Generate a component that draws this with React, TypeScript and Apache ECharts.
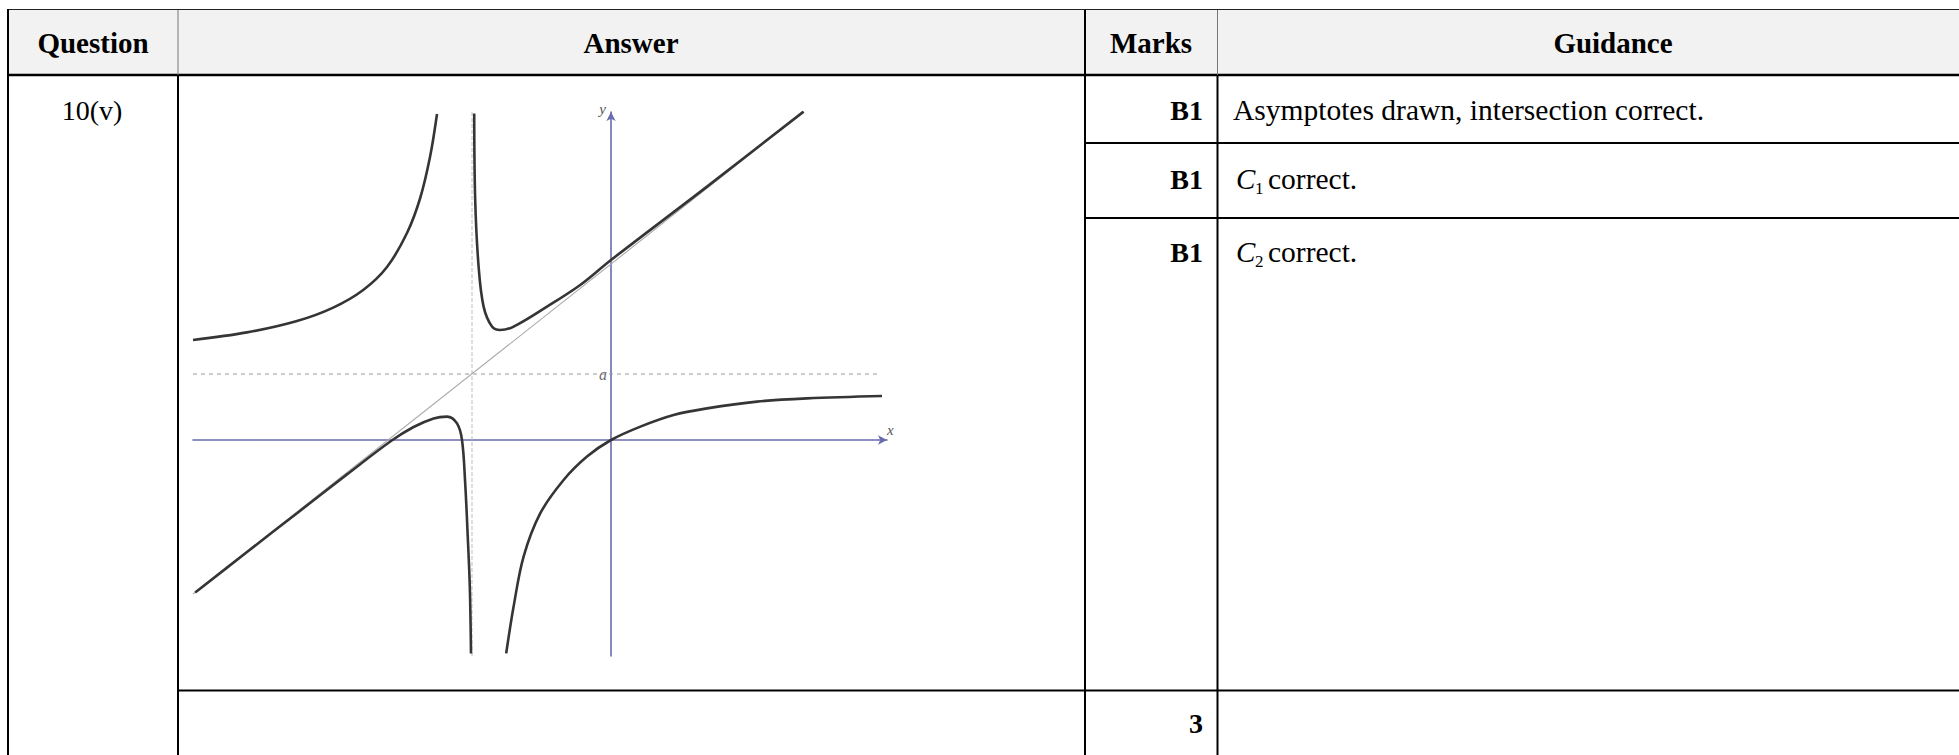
import React, { useEffect, useRef } from "react";
import * as echarts from "echarts";

// ---------- table texts ----------
const headers = ["Question", "Answer", "Marks", "Guidance"];
const questionLabel = "10(v)";
const markLabels = ["B1", "B1", "B1"];
const guidanceFirst = "Asymptotes drawn, intersection correct.";
const curveNames = ["C", "C"];
const curveSubs = ["1", "2"];
const curveGuidance = "correct.";
const totalMarks = "3";

// ---------- graph data (graph units) ----------
const xRange = [-20.9, 13.8];
const yRange = [-10.8, 16.4];
const asymptoteA = 3.3;
const asymptoteX = -6.95;
const aLabel = "a";
const obliqueAsymptote = [[-20.9, -7.7], [9.63, 16.4]];
const verticalAsymptote = [[asymptoteX, -10.8], [asymptoteX, 16.4]];
const horizontalAsymptote = [[-20.9, asymptoteA], [13.5, asymptoteA]];

const c2Left = [
  [-20.9, 5.0], [-18.2, 5.38], [-15.7, 5.95], [-13.89, 6.62], [-12.39, 7.5],
  [-11.2, 8.65], [-10.2, 10.35], [-9.54, 12.1], [-9.04, 14.2], [-8.7, 16.3],
];
const c2Right = [
  [-5.24, -10.67], [-4.87, -8.33], [-4.37, -5.83], [-3.54, -3.67], [-2.37, -2.0],
  [-1.2, -0.83], [0, 0], [1.47, 0.67], [3.13, 1.25], [4.8, 1.58], [7.3, 1.92],
  [9.8, 2.08], [13.55, 2.2],
];
const c1Upper = [
  [-6.84, 16.33], [-6.79, 12.0], [-6.62, 8.67], [-6.37, 6.67], [-5.95, 5.67],
  [-5.54, 5.5], [-4.87, 5.67], [-3.2, 6.67], [-1.54, 7.75], [0, 9.0],
  [4.8, 12.67], [9.63, 16.42],
];
const c1Lower = [
  [-20.79, -7.63], [-18.2, -5.6], [-15.7, -3.66], [-13.2, -1.72], [-11.0, -0.05],
  [-9.87, 0.65], [-8.87, 1.08], [-8.2, 1.17], [-7.7, 0.83], [-7.45, 0],
  [-7.29, -2.17], [-7.17, -4.67], [-7.06, -7.33], [-7.0, -10.67],
];

const SERIF = "'Liberation Serif', 'Times New Roman', serif";
const FS = 29;

function txt(text: string, x: number, y: number, align: string, opts: any = {}) {
  return {
    type: "text",
    x,
    y,
    z: 10,
    style: {
      text,
      fill: "#000",
      font: `${opts.style || "normal"} ${opts.weight || "normal"} ${opts.size || FS}px ${SERIF}`,
      align,
      verticalAlign: "middle",
      textAlign: align,
      textVerticalAlign: "middle",
    },
  };
}

function ln(x1: number, y1: number, x2: number, y2: number, w = 2, color = "#000") {
  return { type: "line", z: 5, shape: { x1, y1, x2, y2 }, style: { stroke: color, lineWidth: w } };
}

export default function App() {
  const ref = useRef<HTMLDivElement>(null);
  useEffect(() => {
    if (!ref.current) return;
    const chart = echarts.init(ref.current, undefined, { renderer: "svg" });
    const W = 1959;
    const graphics: any[] = [
      { type: "rect", z: 1, shape: { x: 8, y: 10, width: W - 8, height: 65 }, style: { fill: "#f2f2f2" } },
      ln(8, 9.5, W, 9.5, 1, "#222"),
      ln(8, 75, W, 75, 2.5),
      ln(8, 9, 8, 755, 2),
      ln(178, 10, 178, 75, 1, "#777"),
      ln(178, 75, 178, 755, 2),
      ln(1085, 10, 1085, 755, 2),
      ln(1217.5, 10, 1217.5, 75, 1, "#777"),
      ln(1217.5, 75, 1217.5, 755, 2),
      ln(1085, 143, W, 143, 2),
      ln(1085, 218, W, 218, 2),
      ln(178, 690.5, W, 690.5, 2),
      txt(headers[0], 93, 43, "center", { weight: "bold" }),
      txt(headers[1], 631, 43, "center", { weight: "bold" }),
      txt(headers[2], 1151, 43, "center", { weight: "bold" }),
      txt(headers[3], 1613, 43, "center", { weight: "bold" }),
      txt(questionLabel, 92, 110, "center", { size: 28 }),
      txt(markLabels[0], 1203, 110, "right", { weight: "bold", size: 28 }),
      txt(markLabels[1], 1203, 179, "right", { weight: "bold", size: 28 }),
      txt(markLabels[2], 1203, 252, "right", { weight: "bold", size: 28 }),
      txt(guidanceFirst, 1233, 110, "left", { size: 29.5 }),
      txt(curveNames[0], 1236, 179, "left", { style: "italic" }),
      txt(curveSubs[0], 1255, 188, "left", { size: 17 }),
      txt(curveGuidance, 1268, 179, "left", { size: 29.5 }),
      txt(curveNames[1], 1236, 252, "left", { style: "italic" }),
      txt(curveSubs[1], 1255, 261, "left", { size: 17 }),
      txt(curveGuidance, 1268, 252, "left", { size: 29.5 }),
      txt(totalMarks, 1203, 723, "right", { weight: "bold", size: 28 }),
    ];

    const curveStyle = { color: "#353535", width: 2.6 };
    const curve = (data: number[][]) => ({
      type: "line",
      data,
      smooth: 0.35,
      showSymbol: false,
      symbol: "none",
      lineStyle: curveStyle,
      z: 4,
    });

    const axisLine = (sym: string[]) => ({
      onZero: true,
      lineStyle: { color: "#6a6aae", width: 1.6 },
      symbol: sym,
      symbolSize: [7, 9],
    });

    chart.setOption({
      animation: false,
      backgroundColor: "#fff",
      grid: { left: 193, top: 112, width: 694, height: 544, containLabel: false },
      xAxis: {
        type: "value",
        min: xRange[0],
        max: xRange[1],
        axisLine: axisLine(["none", "arrow"]),
        axisTick: { show: false },
        axisLabel: { show: false },
        splitLine: { show: false },
        name: "x",
        nameLocation: "end",
        nameGap: 0,
        nameTextStyle: {
          fontFamily: SERIF,
          fontStyle: "italic",
          fontSize: 15,
          color: "#555",
          align: "left",
          verticalAlign: "bottom",
          padding: [0, 0, 3, 0],
        },
      },
      yAxis: {
        type: "value",
        min: yRange[0],
        max: yRange[1],
        axisLine: axisLine(["none", "arrow"]),
        axisTick: { show: false },
        axisLabel: { show: false },
        splitLine: { show: false },
        name: "y",
        nameLocation: "end",
        nameGap: 3,
        nameTextStyle: {
          fontFamily: SERIF,
          fontStyle: "italic",
          fontSize: 15,
          color: "#555",
          align: "right",
          verticalAlign: "middle",
          padding: [0, 5, 0, 0],
        },
      },
      series: [
        {
          type: "line",
          data: verticalAsymptote,
          showSymbol: false,
          symbol: "none",
          lineStyle: { color: "#bdbdbd", width: 1, type: [4, 2] },
          z: 2,
        },
        {
          type: "line",
          data: horizontalAsymptote,
          showSymbol: false,
          symbol: "none",
          lineStyle: { color: "#9a9a9a", width: 1.2, type: [4, 4] },
          z: 2,
        },
        {
          type: "line",
          data: obliqueAsymptote,
          showSymbol: false,
          symbol: "none",
          lineStyle: { color: "#aaaaaa", width: 1.1 },
          z: 2,
        },
        curve(c2Left),
        curve(c2Right),
        curve(c1Upper),
        curve(c1Lower),
        {
          type: "scatter",
          data: [[0, asymptoteA]],
          symbolSize: 0,
          label: {
            show: true,
            formatter: aLabel,
            position: "left",
            distance: 4,
            fontFamily: SERIF,
            fontStyle: "italic",
            fontSize: 16,
            color: "#444",
          },
          z: 6,
        },
      ],
      graphic: graphics,
    });
    return () => chart.dispose();
  }, []);
  return (
    <div
      ref={ref}
      style={{ position: "absolute", left: 0, top: 0, width: 1959, height: 755, background: "#fff" }}
    />
  );
}
